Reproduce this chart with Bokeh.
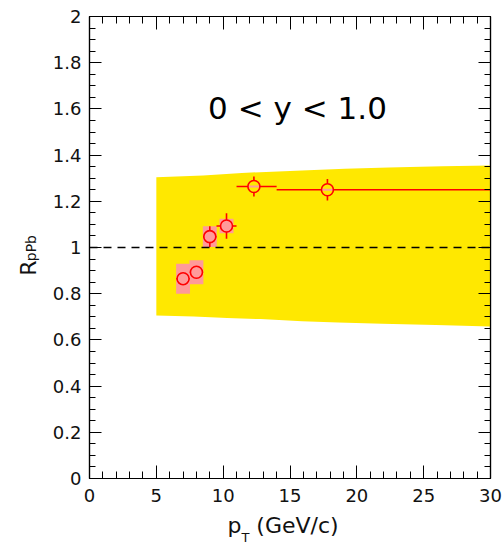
import math
from bokeh.plotting import figure
from bokeh.models import (Range1d, LinearAxis, SingleIntervalTicker, FixedTicker,
                          Label, ColumnDataSource, Span, CustomJSTickFormatter)
from bokeh.embed import file_html
from bokeh.resources import INLINE

# ---------------- data ----------------
pt = [7.0, 8.0, 9.0, 10.25, 12.3, 17.8]
rppb = [0.865, 0.893, 1.047, 1.093, 1.264, 1.250]
bin_lo = [6.5, 7.5, 8.5, 9.5, 11.0, 14.0]
bin_hi = [7.5, 8.5, 9.5, 11.0, 14.0, 30.0]
stat_err = [0.02, 0.02, 0.045, 0.055, 0.043, 0.047]
syst_err = [0.065, 0.052, 0.045, 0.031, 0.004, 0.004]
syst_halfwidth = [0.52, 0.52, 0.52, 0.52, 0.52, 0.52]

# global normalisation uncertainty band
band_top_pt = [5.0, 8.5, 11.4, 15.9, 19.1, 22.4, 26.4, 30.0]
band_top = [1.304, 1.312, 1.323, 1.333, 1.341, 1.346, 1.352, 1.355]
band_bot_pt = [5.0, 7.8, 10.3, 12.8, 15.9, 18.6, 21.9, 25.9, 30.0]
band_bot = [0.706, 0.701, 0.695, 0.690, 0.681, 0.675, 0.670, 0.664, 0.658]

x_major = 5
y_major = 0.2

title_text = "0 < y < 1.0"
xtitle_main = "p"
xtitle_sub = "T"
xtitle_unit = "(GeV/c)"
ytitle_main = "R"
ytitle_sub = "pPb"

FONT = "DejaVu Sans"
RED = "#ff0000"
PINK = "#ff9a9a"
YELLOW = "#ffe800"
INK = "#111111"

# ---------------- figure ----------------
p = figure(width=504, height=549, x_range=Range1d(0, 30), y_range=Range1d(0, 2),
           output_backend="svg", toolbar_location=None,
           min_border_left=89, min_border_right=14, min_border_top=16,
           min_border_bottom=71, background_fill_color="white",
           border_fill_color="white")
p.xgrid.visible = False
p.ygrid.visible = False
p.outline_line_color = "black"
p.outline_line_width = 1.2


def style_axis(ax, ticker, major_len, minor_len, labels=True):
    ax.ticker = ticker
    ax.axis_line_color = "black"
    ax.axis_line_width = 1.2
    ax.major_tick_in = major_len
    ax.major_tick_out = 0
    ax.minor_tick_in = minor_len
    ax.minor_tick_out = 0
    ax.major_tick_line_color = "black"
    ax.minor_tick_line_color = "black"
    ax.major_tick_line_width = 1
    ax.minor_tick_line_width = 1
    if labels:
        ax.major_label_text_font = FONT
        ax.major_label_text_font_size = "18px"
        ax.major_label_text_color = INK
    else:
        ax.formatter = CustomJSTickFormatter(code="return ''")
        ax.major_label_standoff = 0


xt = SingleIntervalTicker(interval=x_major, num_minor_ticks=5)
yt = SingleIntervalTicker(interval=y_major, num_minor_ticks=4)
style_axis(p.xaxis[0], xt, 13, 7)
style_axis(p.yaxis[0], yt, 12, 6)
p.xaxis[0].major_label_standoff = 10
p.yaxis[0].major_label_standoff = 8

top_ax = LinearAxis()
style_axis(top_ax, SingleIntervalTicker(interval=x_major, num_minor_ticks=5), 13, 7, labels=False)
p.add_layout(top_ax, "above")
right_ax = LinearAxis()
style_axis(right_ax, SingleIntervalTicker(interval=y_major, num_minor_ticks=4), 12, 6, labels=False)
p.add_layout(right_ax, "right")


# axis titles (with sub-scripts) built from tick-less axes placed outside the frame
def title_axis(positions, texts, size, standoff, angle=None):
    ax = LinearAxis(ticker=FixedTicker(ticks=positions, minor_ticks=[]),
                    major_label_overrides=dict(zip(positions, texts)),
                    axis_line_color=None, major_tick_line_color=None,
                    minor_tick_line_color=None, major_tick_in=0, major_tick_out=0,
                    minor_tick_in=0, minor_tick_out=0,
                    major_label_standoff=standoff, major_label_text_font=FONT,
                    major_label_text_font_size=size, major_label_text_color=INK)
    if angle is not None:
        ax.major_label_orientation = angle
    return ax


p.add_layout(title_axis([10.85, 15.56], [xtitle_main, xtitle_unit], "22px", 8), "below")
p.add_layout(title_axis([11.67], [xtitle_sub], "13px", -11), "below")

p.add_layout(title_axis([1.054], [ytitle_sub], "14px", 18, math.pi / 2), "left")
p.add_layout(title_axis([0.944], [ytitle_main], "22px", -16, math.pi / 2), "left")

# ---------------- band ----------------
band_x = band_top_pt + band_bot_pt[::-1]
band_y = band_top + band_bot[::-1]
p.patch(band_x, band_y, fill_color=YELLOW, line_color=None)

# ---------------- systematic boxes ----------------
box_src = ColumnDataSource(dict(
    left=[x - w for x, w in zip(pt, syst_halfwidth)],
    right=[x + w for x, w in zip(pt, syst_halfwidth)],
    bottom=[y - e for y, e in zip(rppb, syst_err)],
    top=[y + e for y, e in zip(rppb, syst_err)],
))
p.quad(left="left", right="right", bottom="bottom", top="top", source=box_src,
       fill_color=PINK, line_color=None)

# ---------------- reference line ----------------
p.add_layout(Span(location=1.0, dimension="width", line_color="black",
                  line_width=1.6, line_dash="8 6"))

# ---------------- error bars (stop at marker edge) ----------------
gap_x = 6 / (401 / 30)
gap_y = 6 / (462 / 2)
x0, x1, y0, y1 = [], [], [], []
for x, y, lo, hi, e in zip(pt, rppb, bin_lo, bin_hi, stat_err):
    if x - gap_x > lo:
        x0.append(lo); x1.append(x - gap_x); y0.append(y); y1.append(y)
    if x + gap_x < hi:
        x0.append(x + gap_x); x1.append(hi); y0.append(y); y1.append(y)
    if e > gap_y:
        x0.append(x); x1.append(x); y0.append(y - e); y1.append(y - gap_y)
        x0.append(x); x1.append(x); y0.append(y + gap_y); y1.append(y + e)
p.segment(x0=x0, y0=y0, x1=x1, y1=y1, line_color=RED, line_width=1.6)

# ---------------- markers ----------------
p.scatter(pt, rppb, marker="circle", size=12, fill_color=None,
          line_color=RED, line_width=1.6)

# ---------------- in-frame title ----------------
p.add_layout(Label(x=15.56, y=1.606, text=title_text, text_font=FONT,
                   text_font_size="31px", text_align="center",
                   text_baseline="alphabetic", text_color="black"))

open("out.html", "w").write(file_html(p, INLINE))
